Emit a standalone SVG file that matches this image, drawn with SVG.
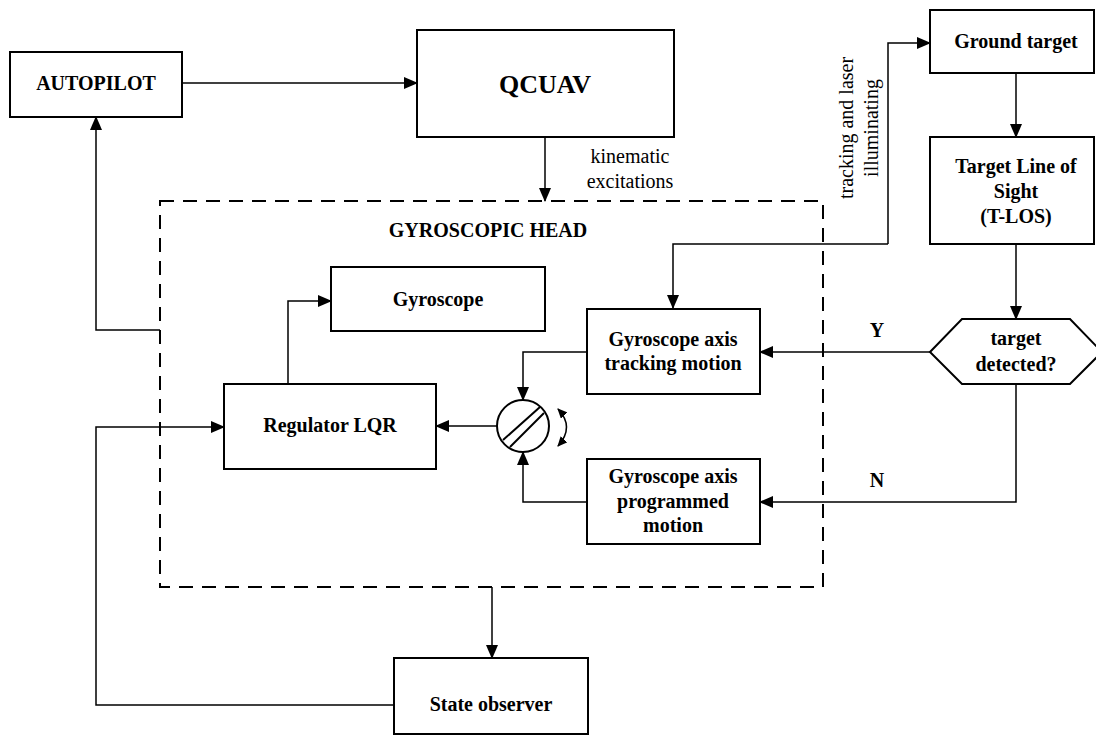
<svg xmlns="http://www.w3.org/2000/svg" width="1096" height="736" viewBox="0 0 1096 736">
<defs>
<marker id="ah" markerWidth="14" markerHeight="12" refX="13" refY="6" orient="auto-start-reverse" markerUnits="userSpaceOnUse"><path d="M0,0 L14,6 L0,12 Z" fill="#000"/></marker>
<marker id="sh" markerWidth="10" markerHeight="9" refX="9" refY="4.5" orient="auto-start-reverse" markerUnits="userSpaceOnUse"><path d="M0,0 L10,4.5 L0,9 Z" fill="#000"/></marker>
<style>
.box{fill:#fff;stroke:#000;stroke-width:2}
.c{fill:none;stroke:#000;stroke-width:1.5}
.t{font-family:"Liberation Serif","Times New Roman",serif;font-size:20px;font-weight:bold;text-anchor:middle;fill:#000}
.n{font-family:"Liberation Serif","Times New Roman",serif;font-size:20px;text-anchor:middle;fill:#000}
</style>
</defs>
<rect width="1096" height="736" fill="#fff"/>
<g id="gyro-head">
<rect x="160" y="201" width="663" height="386" fill="none" stroke="#000" stroke-width="2" stroke-dasharray="14 9"/>
<text class="t" x="488" y="237">GYROSCOPIC HEAD</text>
</g>
<g id="connectors">
<path class="c" d="M182,83 H417" marker-end="url(#ah)"/>
<path class="c" d="M545,137 V201" marker-end="url(#ah)"/>
<path class="c" d="M160,330 H96 V117" marker-end="url(#ah)"/>
<path class="c" d="M288,384 V301 H331" marker-end="url(#ah)"/>
<path class="c" d="M497,426 H436" marker-end="url(#ah)"/>
<path class="c" d="M587,352 H523 V400" marker-end="url(#ah)"/>
<path class="c" d="M587,502 H523 V452" marker-end="url(#ah)"/>
<path class="c" d="M930,352 H760" marker-end="url(#ah)"/>
<path class="c" d="M1016,384 V502 H760" marker-end="url(#ah)"/>
<path class="c" d="M1016,245 V319" marker-end="url(#ah)"/>
<path class="c" d="M1016,73 V137" marker-end="url(#ah)"/>
<path class="c" d="M888,244 H673 V308" marker-end="url(#ah)"/>
<path class="c" d="M888,244 V43 H930" marker-end="url(#ah)"/>
<path class="c" d="M492,587 V658" marker-end="url(#ah)"/>
<path class="c" d="M394,705 H96 V427 H224" marker-end="url(#ah)"/>
<path class="c" stroke-width="2" d="M558,409 Q575,427 558,446" marker-start="url(#sh)" marker-end="url(#sh)"/>
<text class="n" x="630" y="163">kinematic</text>
<text class="n" x="630" y="188">excitations</text>
<text class="n" transform="translate(853,128) rotate(-90)">tracking and laser</text>
<text class="n" transform="translate(878,128) rotate(-90)">illuminating</text>
<text class="t" x="877" y="337">Y</text>
<text class="t" x="877" y="487">N</text>
</g>
<g id="autopilot">
<rect class="box" x="10" y="52" width="172" height="65"/>
<text class="t" x="96" y="90">AUTOPILOT</text>
</g>
<g id="qcuav">
<rect class="box" x="417" y="30" width="257" height="107"/>
<text class="t" x="545" y="93" style="font-size:26px">QCUAV</text>
</g>
<g id="gyroscope">
<rect class="box" x="331" y="267" width="214" height="64"/>
<text class="t" x="438" y="306">Gyroscope</text>
</g>
<g id="regulator">
<rect class="box" x="224" y="384" width="212" height="85"/>
<text class="t" x="330" y="432">Regulator LQR</text>
</g>
<g id="switch">
<circle cx="523" cy="426" r="26" fill="#fff" stroke="#000" stroke-width="2"/>
<line x1="503" y1="440" x2="540" y2="407" stroke="#000" stroke-width="2"/>
<line x1="510" y1="447" x2="544" y2="413" stroke="#000" stroke-width="2"/>
</g>
<g id="tracking">
<rect class="box" x="587" y="309" width="173" height="85"/>
<text class="t" x="673" y="346">Gyroscope axis</text>
<text class="t" x="673" y="370">tracking motion</text>
</g>
<g id="programmed">
<rect class="box" x="587" y="459" width="173" height="85"/>
<text class="t" x="673" y="483">Gyroscope axis</text>
<text class="t" x="673" y="508">programmed</text>
<text class="t" x="673" y="532">motion</text>
</g>
<g id="ground-target">
<rect class="box" x="930" y="10" width="164" height="63"/>
<text class="t" x="1016" y="48">Ground target</text>
</g>
<g id="tlos">
<rect class="box" x="930" y="137" width="164" height="107"/>
<text class="t" x="1016" y="173">Target Line of</text>
<text class="t" x="1016" y="198">Sight</text>
<text class="t" x="1016" y="223">(T-LOS)</text>
</g>
<g id="decision">
<polygon class="box" points="930,352 962,319 1070,319 1102,352 1070,384 962,384"/>
<text class="t" x="1016" y="345">target</text>
<text class="t" x="1016" y="371">detected?</text>
</g>
<g id="state-observer">
<rect class="box" x="394" y="658" width="194" height="76"/>
<text class="t" x="491" y="711">State observer</text>
</g>
</svg>
